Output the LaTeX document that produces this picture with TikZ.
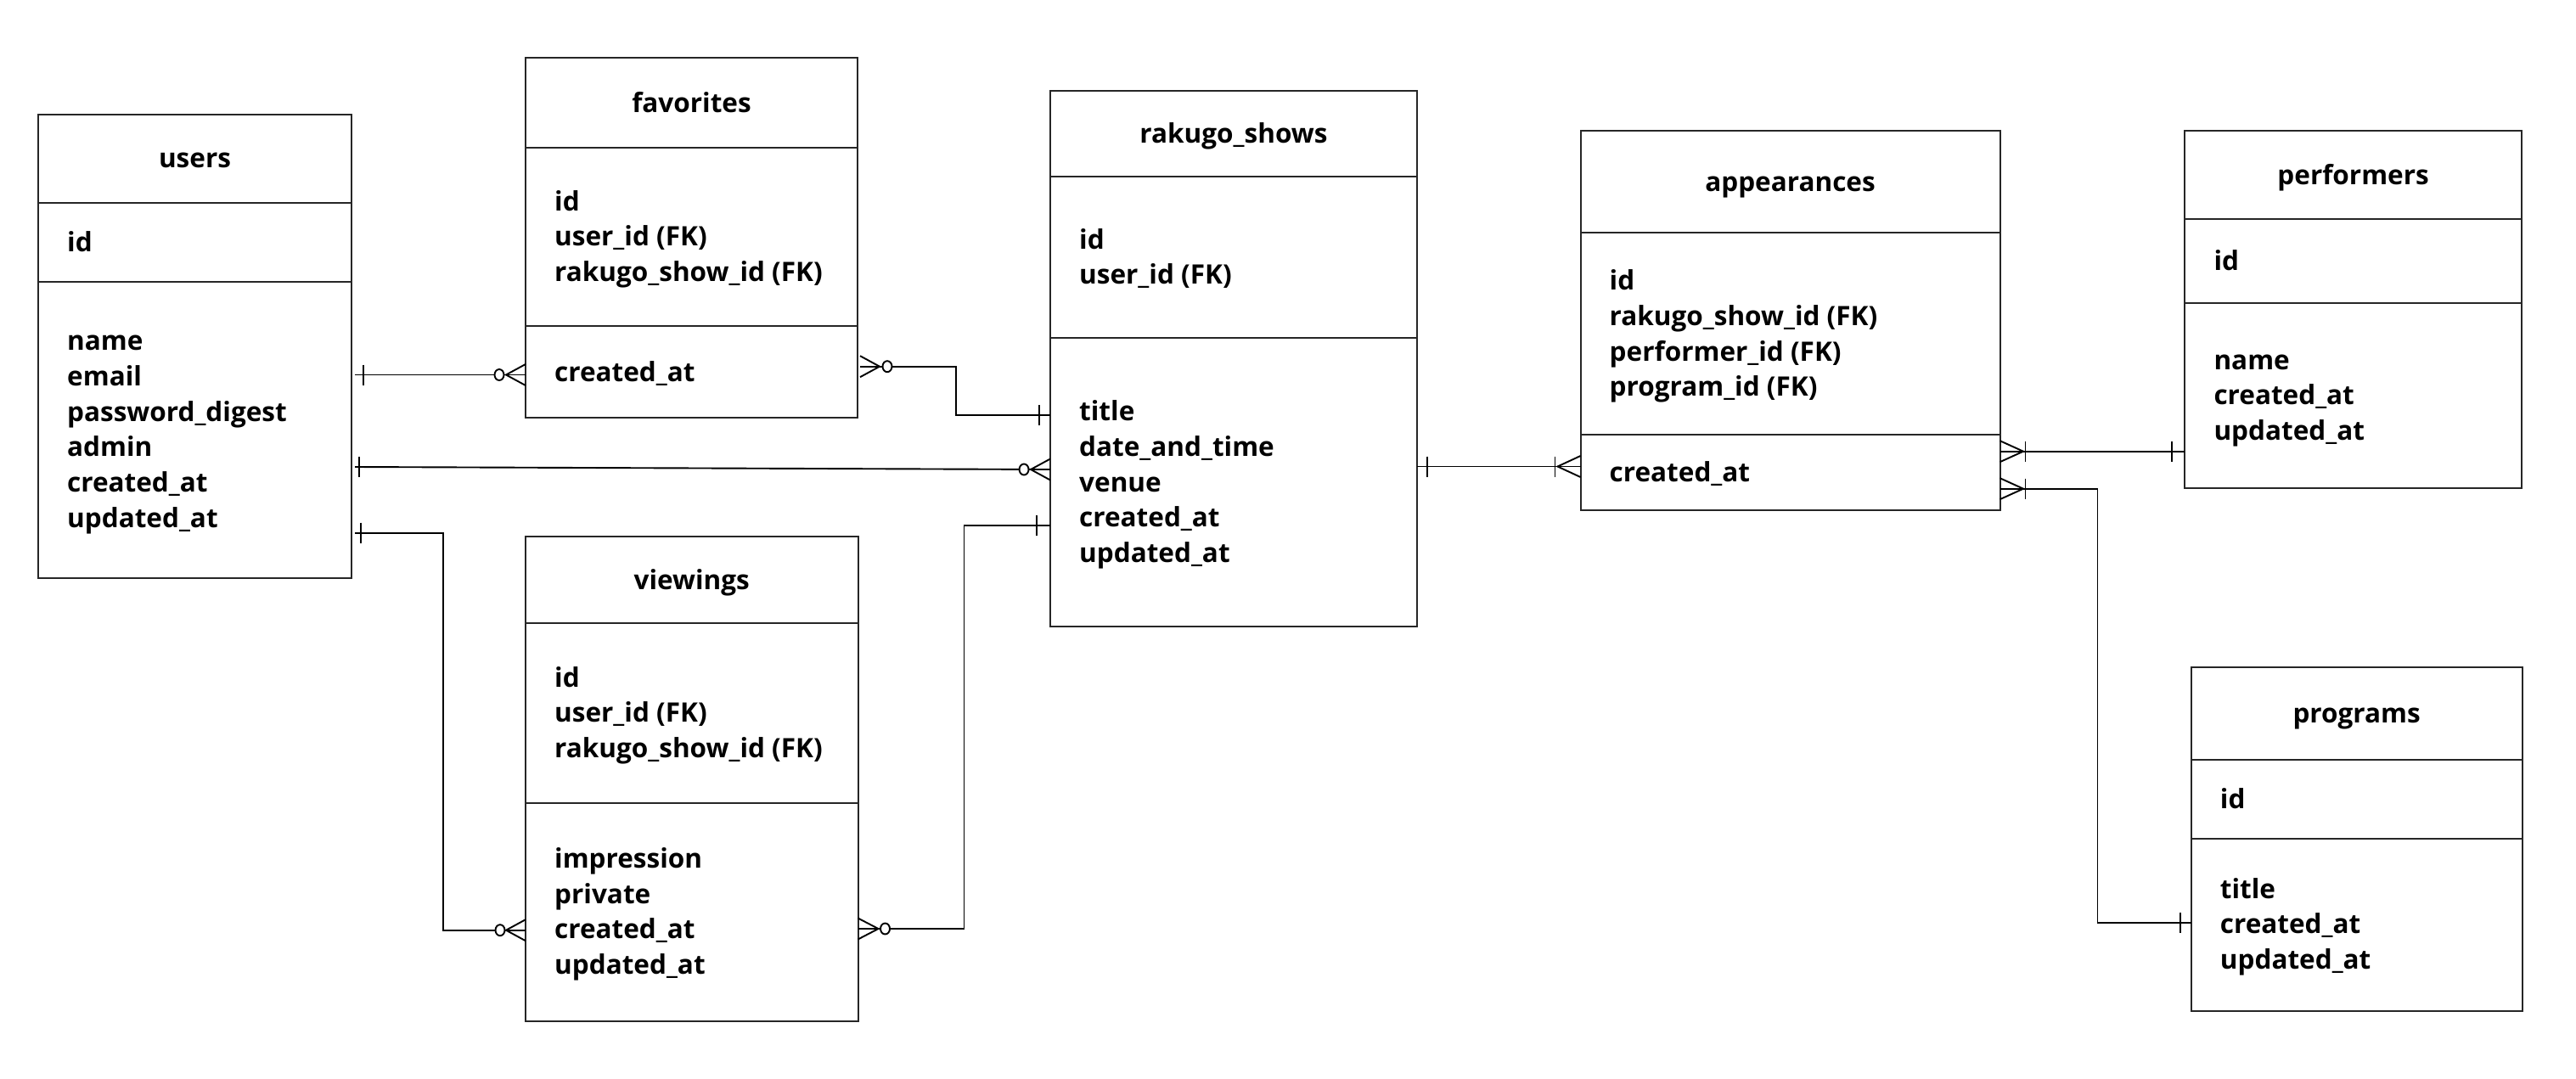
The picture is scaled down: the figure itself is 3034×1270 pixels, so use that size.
\documentclass[tikz,border=0pt]{standalone}
\usepackage{fontspec}
\setmainfont{Open Sans}
\usetikzlibrary{calc}
\tikzset{
  ent/.style={draw=black!85, line width=2pt, rectangle, inner sep=0pt, outer sep=0pt, anchor=north west},
  divl/.style={draw=black!85, line width=2pt},
  conn/.style={draw=black, line width=1.9pt},
  hdr/.style={anchor=base, inner sep=0pt, font=\bfseries\fontsize{31.5}{36}\selectfont},
  attr/.style={anchor=base west, inner sep=0pt, font=\bfseries\fontsize{31.5}{36}\selectfont},
}
% entity: name, left, top, right, bottom, div1, div2
\newcommand\entity[7]{%
  \node[ent, minimum width=#4pt-#2pt, minimum height=#5pt-#3pt] (#1) at (#2,#3) {};
  \draw[divl] (#1.west |- 0,#6) -- (#1.east |- 0,#6);
  \draw[divl] (#1.west |- 0,#7) -- (#1.east |- 0,#7);
}
% attribute lines: name prefix, x, first baseline, list
\newcommand\attrs[4]{%
  \foreach \t [count=\i] in {#4} {
    \node[attr] (#1\i) at (#2, {#3+(\i-1)*41.8}) {\t};
  }
}
\newcommand\tickm[2]{\draw[conn] ($(#1)+(#2,-12)$) -- ($(#1)+(#2,12)$);}
\newcommand\crowm[2]{\draw[conn] ($(#1)+(0,-12.5)$) -- ($(#1)+(#2,0)$) -- ($(#1)+(0,12.5)$);}
\newcommand\zerom[2]{\draw[conn, fill=white] ($(#1)+(#2,0)$) ellipse [x radius=5.5, y radius=6.5];}
\begin{document}
\begin{tikzpicture}[x=1pt, y=-1pt]
\useasboundingbox[fill=white] (0,0) rectangle (3034,1270);

% ---------- entities ----------
\entity{users}{45}{134.5}{414}{680.5}{238.5}{332}
\node[hdr] (users-h) at (229.5,197) {users};
\attrs{users-k}{79}{296}{id}
\attrs{users-b}{79}{412.5}{name,email,password\_digest,admin,created\_at,updated\_at}

\entity{fav}{619}{68}{1010}{491.5}{173.5}{384}
\node[hdr] (fav-h) at (814.5,132) {favorites};
\attrs{fav-k}{653}{248}{id,user\_id (FK),rakugo\_show\_id (FK)}
\attrs{fav-b}{653}{449}{created\_at}

\entity{shows}{1237}{106.7}{1669}{738}{208}{398}
\node[hdr] (shows-h) at (1453,168) {rakugo\_shows};
\attrs{shows-k}{1271}{293}{id,user\_id (FK)}
\attrs{shows-b}{1271}{495.4}{title,date\_and\_time,venue,created\_at,updated\_at}

\entity{view}{619}{631.5}{1010.5}{1202.5}{733.7}{946}
\node[hdr] (view-h) at (814.7,694) {viewings};
\attrs{view-k}{653}{809}{id,user\_id (FK),rakugo\_show\_id (FK)}
\attrs{view-b}{653}{1022.3}{impression,private,created\_at,updated\_at}

\entity{app}{1861.5}{154}{2355.5}{600.7}{274}{512.3}
\node[hdr] (app-h) at (2108.5,225) {appearances};
\attrs{app-k}{1895.5}{341.5}{id,rakugo\_show\_id (FK),performer\_id (FK),program\_id (FK)}
\attrs{app-b}{1895.5}{567.5}{created\_at}

\entity{perf}{2573.3}{154}{2970}{575}{258.3}{356.7}
\node[hdr] (perf-h) at (2771.6,217) {performers};
\attrs{perf-k}{2607.3}{318.5}{id}
\attrs{perf-b}{2607.3}{435}{name,created\_at,updated\_at}

\entity{prog}{2580.7}{785.7}{2970.5}{1190.7}{895}{988.3}
\node[hdr] (prog-h) at (2775.6,851) {programs};
\attrs{prog-k}{2614.7}{952.7}{id}
\attrs{prog-b}{2614.7}{1058}{title,created\_at,updated\_at}

% ---------- connectors ----------
% users -- favorites
\coordinate (c1a) at (users.east |- 0,441.5);
\coordinate (c1b) at (fav.west |- 0,441.5);
\draw[conn] ($(c1a)+(4,0)$) -- (c1b);
\tickm{c1a}{14}
\crowm{c1b}{-23}
\zerom{c1b}{-31}

% favorites -- rakugo_shows
\coordinate (c2a) at ($(fav.east |- 0,431.7)+(3,0)$);
\coordinate (c2b) at (shows.west |- 0,489);
\draw[conn] (c2a) -- ++(113,0) |- (c2b);
\crowm{c2a}{23}
\zerom{c2a}{32}
\tickm{c2b}{-13}

% users -- rakugo_shows
\coordinate (c3a) at (users.east |- 0,550);
\coordinate (c3b) at (shows.west |- 0,553);
\draw[conn] ($(c3a)+(4,0)$) -- (c3b);
\tickm{c3a}{9}
\crowm{c3b}{-23}
\zerom{c3b}{-31}

% users -- viewings
\coordinate (c4a) at (users.east |- 0,627.7);
\coordinate (c4b) at (view.west |- 0,1095.7);
\draw[conn] ($(c4a)+(4,0)$) -- ++(104,0) |- (c4b);
\tickm{c4a}{11}
\crowm{c4b}{-23}
\zerom{c4b}{-30}

% viewings -- rakugo_shows
\coordinate (c5a) at (view.east |- 0,1094);
\coordinate (c5b) at (shows.west |- 0,619.3);
\draw[conn] (c5a) -- ++(125,0) |- (c5b);
\crowm{c5a}{24}
\zerom{c5a}{32}
\tickm{c5b}{-16}

% rakugo_shows -- appearances
\coordinate (c6a) at (shows.east |- 0,549.5);
\coordinate (c6b) at (app.west |- 0,549.5);
\draw[conn] (c6a) -- (c6b);
\tickm{c6a}{12}
\crowm{c6b}{-27}
\tickm{c6b}{-30}

% appearances -- performers
\coordinate (c7a) at (app.east |- 0,531.7);
\coordinate (c7b) at (perf.west |- 0,531.7);
\draw[conn] (c7a) -- (c7b);
\crowm{c7a}{27.5}
\tickm{c7a}{30}
\tickm{c7b}{-15}

% appearances -- programs
\coordinate (c8a) at (app.east |- 0,575.7);
\coordinate (c8b) at (prog.west |- 0,1087);
\draw[conn] (c8a) -- ++(115,0) |- (c8b);
\crowm{c8a}{27.5}
\tickm{c8a}{30}
\tickm{c8b}{-13}
\end{tikzpicture}
\end{document}
